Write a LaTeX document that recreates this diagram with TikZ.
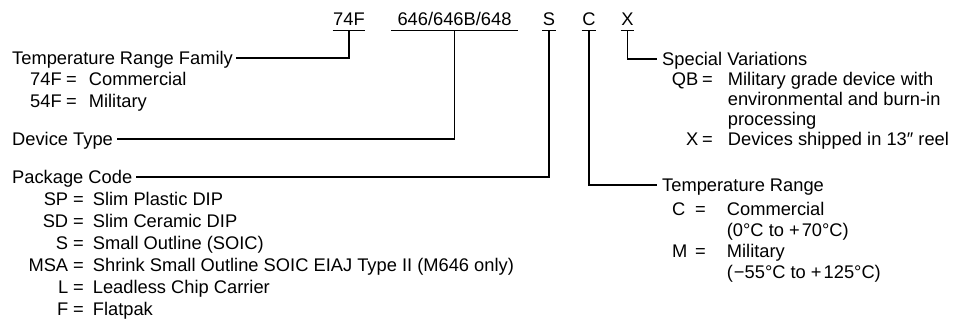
\documentclass[tikz,border=0pt]{standalone}
\usepackage{fontspec}
\setmainfont{Liberation Sans}
\usepackage{array}

\begin{document}
\begin{tikzpicture}[x=1pt,y=-1pt,
  txt/.style={anchor=base west, inner sep=0pt, font=\fontsize{18.3}{22}\selectfont},
  code/.style={anchor=base, inner xsep=0.5pt, inner ysep=5pt, text depth=0pt, font=\fontsize{18.3}{22}\selectfont},
  lead/.style={line width=1.2pt}]
\useasboundingbox (0,0) rectangle (956,322);

% part number
\node[code] (c74) at (349,25) {74F};
\node[code, inner xsep=6pt] (c646) at (454.5,25) {646/646B/648};
\node[code] (cS) at (549,25) {S};
\node[code] (cC) at (589,25) {C};
\node[code] (cX) at (627.5,25) {X};
\draw[lead] (c74.south west) -- (c74.south east);
\draw[lead] (c646.south west) -- (c646.south east);
\draw[lead] (cS.south west) -- (cS.south east);
\draw[lead] (cC.south west) -- (cC.south east);
\draw[lead] (cX.south west) -- (cX.south east);

% left side
\node[txt] (tfam) at (12,64) {Temperature Range Family};
\node[txt] (tflist) at (30,85) {\begin{tabular}[t]{@{}w{l}{31pt}@{\hspace{5pt}}c@{\hspace{12pt}}l@{}}
74F & = & Commercial\\
54F & = & Military
\end{tabular}};

\node[txt] (dtype) at (12,145) {Device Type};

\node[txt] (pcode) at (12,183) {Package Code};
\node[txt] (pklist) at (12,205) {\begin{tabular}[t]{@{}w{r}{56pt}@{\hspace{5pt}}c@{\hspace{9pt}}l@{}}
SP & = & Slim Plastic DIP\\
SD & = & Slim Ceramic DIP\\
S & = & Small Outline (SOIC)\\
MSA & = & Shrink Small Outline SOIC EIAJ Type II (M646 only)\\
L & = & Leadless Chip Carrier\\
F & = & Flatpak
\end{tabular}};

% right side
\node[txt] (svar) at (662,65) {Special Variations};
\node[txt] (svlist) at (668,85) {\renewcommand{\arraystretch}{0.91}%
\begin{tabular}[t]{@{}w{r}{30pt}@{\hspace{4pt}}c@{\hspace{15pt}}l@{}}
QB & = & Military grade device with\\
 & & environmental and burn-in\\
 & & processing\\
X & = & Devices shipped in 13″ reel
\end{tabular}};

\node[txt] (trange) at (662,191) {Temperature Range};
\node[txt] (trlist) at (672,215) {\renewcommand{\arraystretch}{0.955}%
\begin{tabular}[t]{@{}w{l}{14pt}@{\hspace{9pt}}c@{\hspace{21pt}}l@{}}
C & = & Commercial\\
 & & (0°C to +\kern2pt70°C)\\
M & = & Military\\
 & & (\kern1pt−55°C to +\kern2pt125°C)
\end{tabular}};

% leaders
\draw[lead] (c74.south) |- ([xshift=3pt,yshift=6pt]tfam.base east);
\draw[lead] (c646.south) |- ([xshift=4pt,yshift=6pt]dtype.base east);
\draw[lead] (cS.south) |- ([xshift=4pt,yshift=6pt]pcode.base east);
\draw[lead] (cC.south) |- ([xshift=-5pt,yshift=6pt]trange.base west);
\draw[lead] (cX.south) |- ([xshift=-5pt,yshift=6pt]svar.base west);

\end{tikzpicture}
\end{document}
